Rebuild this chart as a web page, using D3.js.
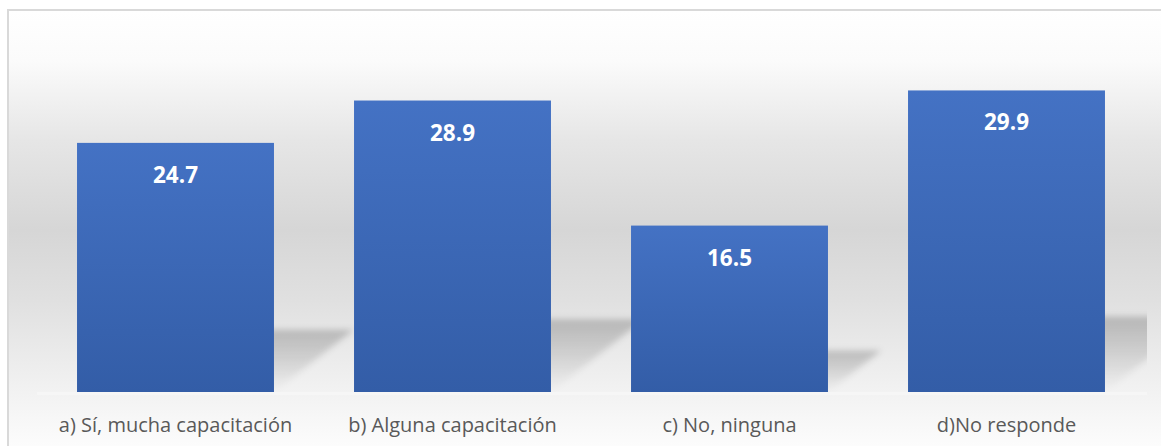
<!DOCTYPE html>
<html>
<head>
<meta charset="utf-8">
<script src="https://cdn.jsdelivr.net/npm/d3@7"></script>
<style>
  html, body { margin: 0; padding: 0; background: #fff; }
  svg { display: block; }
</style>
</head>
<body>
<div id="chart"></div>
<script>
// data
const categories = ["a) Sí, mucha capacitación", "b) Alguna capacitación", "c) No, ninguna", "d)No responde"];
const values = [24.7, 28.9, 16.5, 29.9];
const yDomain = [0, 35];

const width = 1161, height = 446;
const plot = {left: 37, right: 1145, top: 39, bottom: 392};

const svg = d3.select("#chart").append("svg")
  .attr("width", width)
  .attr("height", height);

const defs = svg.append("defs");

// chart background: light at top, gray in the middle, light again at the floor
const bg = defs.append("linearGradient")
  .attr("id", "bgGrad")
  .attr("gradientUnits", "userSpaceOnUse")
  .attr("x1", 0).attr("y1", 11).attr("x2", 0).attr("y2", 446);
[[0, "#ffffff"], [0.113, "#fbfbfb"], [0.297, "#e6e6e6"], [0.503, "#d6d6d6"],
 [0.664, "#e0e0e0"], [0.876, "#f2f2f2"], [1, "#fcfcfc"]].forEach(function (s) {
  bg.append("stop").attr("offset", s[0]).attr("stop-color", s[1]);
});

const barGrad = defs.append("linearGradient")
  .attr("id", "barGrad")
  .attr("x1", 0).attr("y1", 0).attr("x2", 0).attr("y2", 1);
barGrad.append("stop").attr("offset", 0).attr("stop-color", "#4472c4");
barGrad.append("stop").attr("offset", 1).attr("stop-color", "#335da7");

const shGrad = defs.append("linearGradient")
  .attr("id", "shGrad")
  .attr("x1", 0).attr("y1", 0).attr("x2", 0).attr("y2", 1);
shGrad.append("stop").attr("offset", 0).attr("stop-color", "#000").attr("stop-opacity", 0.2);
shGrad.append("stop").attr("offset", 0.45).attr("stop-color", "#000").attr("stop-opacity", 0.12);
shGrad.append("stop").attr("offset", 1).attr("stop-color", "#000").attr("stop-opacity", 0);

defs.append("filter").attr("id", "blur")
  .attr("x", "-20%").attr("y", "-20%").attr("width", "140%").attr("height", "140%")
  .append("feGaussianBlur").attr("stdDeviation", 3);

defs.append("clipPath").attr("id", "plotClip")
  .append("rect")
  .attr("x", plot.left).attr("y", 0)
  .attr("width", 1147 - plot.left).attr("height", plot.bottom);

// frame (only left and top edges fall inside the window)
svg.append("rect")
  .attr("x", 8).attr("y", 10)
  .attr("width", 1170).attr("height", 460)
  .attr("fill", "url(#bgGrad)")
  .attr("stroke", "#d9d9d9")
  .attr("stroke-width", 2);

const x = d3.scaleBand()
  .domain(categories)
  .range([plot.left, plot.right])
  .paddingInner(0.289)
  .paddingOuter(0.1445);

const y = d3.scaleLinear()
  .domain(yDomain)
  .range([plot.bottom, plot.top]);

const rows = categories.map(function (c, i) { return {cat: c, v: values[i]}; });

// perspective floor shadows, thrown up and to the right of each bar
const shadowG = svg.append("g").attr("clip-path", "url(#plotClip)");
shadowG.selectAll("path")
  .data(rows)
  .join("path")
  .attr("d", function (d) {
    const x0 = x(d.cat), x1 = x0 + x.bandwidth();
    const h = (y(0) - y(d.v)) * 0.25;
    const dx = h * 1.28;
    const base = y(0);
    return "M" + x0 + "," + base + "L" + x1 + "," + base +
      "L" + (x1 + dx) + "," + (base - h) + "L" + (x0 + dx) + "," + (base - h) + "Z";
  })
  .attr("fill", "url(#shGrad)")
  .attr("filter", "url(#blur)");

// thin light floor line under the bars
svg.append("rect")
  .attr("x", plot.left).attr("y", plot.bottom)
  .attr("width", 1147 - plot.left).attr("height", 3)
  .attr("fill", "#f6f6f6");

svg.append("g")
  .selectAll("rect")
  .data(rows)
  .join("rect")
  .attr("x", function (d) { return x(d.cat); })
  .attr("y", function (d) { return y(d.v); })
  .attr("width", x.bandwidth())
  .attr("height", function (d) { return y(0) - y(d.v); })
  .attr("fill", "url(#barGrad)");

// value labels inside the bars
svg.append("g")
  .selectAll("text")
  .data(rows)
  .join("text")
  .attr("x", function (d) { return x(d.cat) + x.bandwidth() / 2; })
  .attr("y", function (d) { return y(d.v) + 40; })
  .attr("text-anchor", "middle")
  .attr("font-family", "'Open Sans', sans-serif")
  .attr("font-weight", "bold")
  .attr("font-size", 22.5)
  .attr("fill", "#ffffff")
  .text(function (d) { return d3.format(".1f")(d.v); });

// category axis
const xAxis = svg.append("g")
  .attr("transform", "translate(0," + plot.bottom + ")")
  .call(d3.axisBottom(x).tickSize(0).tickPadding(26));
xAxis.select(".domain").remove();
xAxis.selectAll("text")
  .attr("font-family", "'Open Sans', sans-serif")
  .attr("font-size", 20)
  .attr("fill", "#595959");
</script>
</body>
</html>
